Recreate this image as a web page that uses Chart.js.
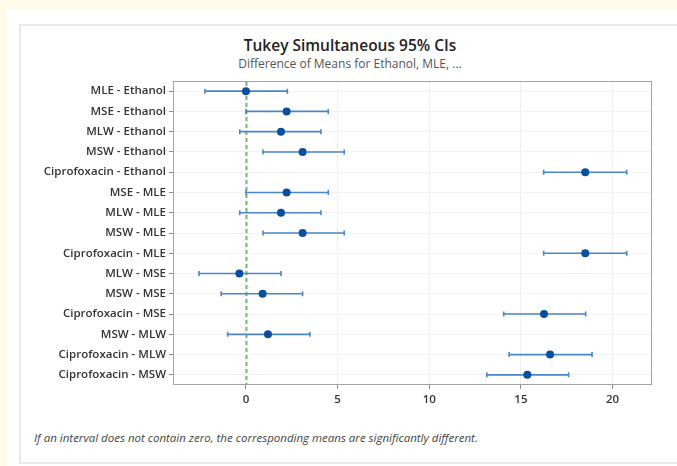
<!DOCTYPE html>
<html>
<head>
<meta charset="utf-8">
<script src="https://cdn.jsdelivr.net/npm/chart.js@4"></script>
<style>
  html,body{margin:0;padding:0;background:#fffbea;}
  #page{position:relative;width:677px;height:466px;overflow:hidden;}
  #panel{position:absolute;left:7px;top:10px;right:0;bottom:0;background:#fff;}
  #box{position:absolute;left:19px;top:24px;width:680px;height:436px;border:2px solid #e8e8e8;border-right:none;}
  #title{position:absolute;left:0;width:700px;top:34px;text-align:center;font:600 15.5px "Open Sans",sans-serif;color:#222;}
  #subtitle{position:absolute;left:0;width:700px;top:55px;text-align:center;font:12px "Open Sans",sans-serif;color:#555;}
  #note{position:absolute;left:34px;top:430px;font:italic 11.5px "Open Sans",sans-serif;color:#444;}
  canvas{position:absolute;left:0;top:0;}
</style>
</head>
<body>
<div id="page">
  <div id="panel"></div>
  <div id="box"></div>
  <div id="title">Tukey Simultaneous 95% CIs</div>
  <div id="subtitle">Difference of Means for Ethanol, MLE, ...</div>
  <div id="note">If an interval does not contain zero, the corresponding means are significantly different.</div>
  <canvas id="tukey" width="677" height="466"></canvas>
</div>
<script>
const labels = [
  "MLE - Ethanol","MSE - Ethanol","MLW - Ethanol","MSW - Ethanol","Ciprofoxacin - Ethanol",
  "MSE - MLE","MLW - MLE","MSW - MLE","Ciprofoxacin - MLE",
  "MLW - MSE","MSW - MSE","Ciprofoxacin - MSE",
  "MSW - MLW","Ciprofoxacin - MLW","Ciprofoxacin - MSW"
];
const means = [0.0, 2.22, 1.91, 3.09, 18.51, 2.22, 1.91, 3.09, 18.51, -0.36, 0.91, 16.26, 1.20, 16.59, 15.35];
const lower = [-2.24, 0.0, -0.34, 0.93, 16.24, 0.0, -0.34, 0.93, 16.24, -2.56, -1.35, 14.06, -1.00, 14.36, 13.14];
const upper = [2.26, 4.49, 4.09, 5.36, 20.77, 4.49, 4.09, 5.36, 20.77, 1.91, 3.09, 18.53, 3.49, 18.88, 17.60];
const xTicks = [0, 5, 10, 15, 20];
const refLine = 0;

const tickFont = {family:"Open Sans", size:11.5, weight:"600"};

// intervals + zero line + plot frame, drawn via the chart scales
const intervals = {
  id:"intervals",
  beforeDatasetsDraw(chart){
    const {ctx, chartArea:a, scales:{x,y}} = chart;
    ctx.save();
    // plot frame
    ctx.strokeStyle="#a3a3a3"; ctx.lineWidth=1;
    ctx.strokeRect(a.left+0.5, a.top+0.5, a.right-a.left-1, a.bottom-a.top-1);
    // zero reference
    const zx = Math.round(x.getPixelForValue(refLine))+0.5;
    ctx.strokeStyle="#6dbf6d"; ctx.lineWidth=2; ctx.setLineDash([4,3]);
    ctx.beginPath(); ctx.moveTo(zx,a.top+1); ctx.lineTo(zx,a.bottom-1); ctx.stroke();
    ctx.setLineDash([]);
    // error bars
    ctx.strokeStyle="#4a85c9"; ctx.lineWidth=1.6;
    labels.forEach((l,i)=>{
      const py = y.getPixelForValue(i);
      const x0 = x.getPixelForValue(lower[i]), x1 = x.getPixelForValue(upper[i]);
      ctx.beginPath();
      ctx.moveTo(x0,py); ctx.lineTo(x1,py);
      ctx.moveTo(x0,py-2.5); ctx.lineTo(x0,py+2.5);
      ctx.moveTo(x1,py-2.5); ctx.lineTo(x1,py+2.5);
      ctx.stroke();
    });
    ctx.restore();
  }
};

new Chart(document.getElementById("tukey"),{
  type:"scatter",
  data:{
    labels,
    datasets:[{
      data: means.map((m,i)=>({x:m, y:labels[i]})),
      pointRadius:4,
      pointBackgroundColor:"#0a4ea0",
      pointBorderWidth:0
    }]
  },
  options:{
    responsive:false,
    animation:false,
    layout:{padding:{left:0, top:81, right:25, bottom:51}},
    plugins:{legend:{display:false}, tooltip:{enabled:false}},
    scales:{
      x:{
        type:"linear", min:-3.98, max:22.15,
        afterBuildTicks: s => { s.ticks = xTicks.map(v=>({value:v})); },
        afterFit: s => { s.height = 30; },
        border:{display:false},
        grid:{color:"#efefef", tickColor:"#8a8a8a", tickLength:4},
        ticks:{font:tickFont, color:"#333", padding:4, maxRotation:0}
      },
      y:{
        type:"category", labels, offset:true,
        afterFit: s => { s.width = 173; },
        border:{display:false},
        grid:{offset:false, color:"#f2f2f2", tickColor:"#8a8a8a", tickLength:4},
        ticks:{font:tickFont, color:"#333", padding:3}
      }
    }
  },
  plugins:[intervals]
});
</script>
</body>
</html>
